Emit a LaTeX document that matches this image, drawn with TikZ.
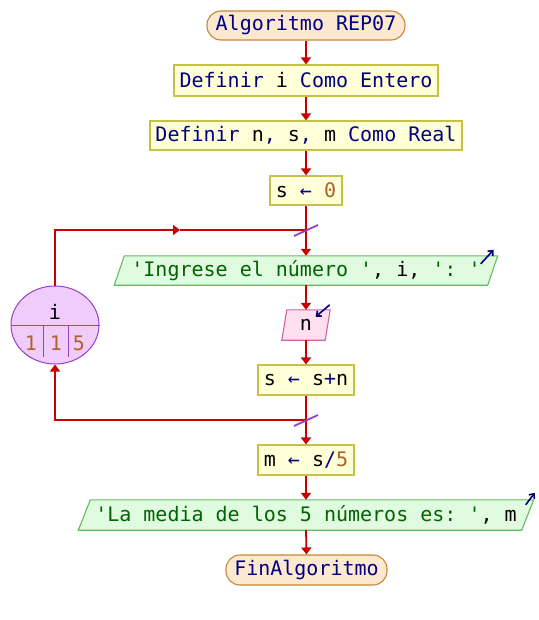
\documentclass[tikz,border=0pt]{standalone}
\usepackage{fontspec}
\setmonofont{DejaVu Sans Mono}
\usetikzlibrary{arrows.meta,shapes.geometric}
\definecolor{kwc}{RGB}{0,0,128}
\definecolor{numc}{RGB}{176,96,40}
\definecolor{strc}{RGB}{0,100,0}
\definecolor{flowc}{RGB}{200,0,0}
\definecolor{termfill}{RGB}{253,233,208}
\definecolor{termdraw}{RGB}{200,134,50}
\definecolor{procfill}{RGB}{255,255,216}
\definecolor{procdraw}{RGB}{200,192,70}
\definecolor{outfill}{RGB}{224,251,224}
\definecolor{outdraw}{RGB}{96,190,96}
\definecolor{infill}{RGB}{255,224,238}
\definecolor{indraw}{RGB}{208,100,160}
\definecolor{ellfill}{RGB}{240,204,250}
\definecolor{elldraw}{RGB}{150,64,200}
\newcommand\myK[1]{\textcolor{kwc}{#1}}
\newcommand\myN[1]{\textcolor{numc}{#1}}
\newcommand\myS[1]{\textcolor{strc}{#1}}
\pgfdeclarelayer{bg}
\pgfsetlayers{bg,main}
\begin{document}
\begin{tikzpicture}[x=1pt,y=-1pt,
  txt/.style={font=\ttfamily\fontsize{20}{24}\selectfont, inner sep=0pt},
  term/.style={txt, draw=termdraw, fill=termfill, line width=1.1pt, rounded corners=14pt},
  proc/.style={txt, draw=procdraw, fill=procfill, line width=1.1pt},
  para/.style={txt},
  outshape/.style={draw=outdraw, fill=outfill, line width=1.1pt},
  inshape/.style={draw=indraw, fill=infill, line width=1.1pt},
  line/.style={draw=flowc, line width=1.8pt},
  flow/.style={line, -{Triangle[length=7pt,width=10pt]}},
  slash/.style={draw=elldraw, line width=1.8pt},
  icon/.style={draw=kwc, line width=1.6pt, -{Straight Barb[length=4pt,width=7pt]}},
  divl/.style={draw=elldraw, line width=1pt}
]
\useasboundingbox (0,0) rectangle (538,620);

% nodes
\node[term, minimum width=198pt, minimum height=29pt] (alg) at (306,25.5) {\myK{Algoritmo REP07}};
\node[proc, minimum width=264pt, minimum height=31pt] (d1) at (306,80.5) {\myK{Definir} i \myK{Como Entero}};
\node[proc, minimum width=312pt, minimum height=29pt] (d2) at (306,135.5) {\myK{Definir} n\myK{,} s\myK{,} m \myK{Como Real}};
\node[proc, minimum width=72pt, minimum height=29pt] (s0) at (306,190.5) {s \myK{←} \myN{0}};
\node[para, minimum width=373pt, minimum height=29pt] (in1) at (306,270.5) {\myS{'Ingrese el número '}, i, \myS{': '}};
\node[para, minimum width=43pt, minimum height=30pt] (nn) at (306,325) {n};
\node[proc, minimum width=96pt, minimum height=30pt] (ss) at (306,380) {s \myK{←} s\myK{+}n};
\node[proc, minimum width=96pt, minimum height=30pt] (mm) at (306,460) {m \myK{←} s\myK{/}\myN{5}};
\node[para, minimum width=443pt, minimum height=30pt] (out) at (306,515) {\myS{'La media de los 5 números es: '}, m};
\node[term, minimum width=161pt, minimum height=30pt] (fin) at (306.5,570) {\myK{FinAlgoritmo}};

% parallelogram outlines
\begin{pgfonlayer}{bg}
\path[outshape] ([xshift=5pt]in1.north west) -- ([xshift=5pt]in1.north east) -- ([xshift=-5pt]in1.south east) -- ([xshift=-5pt]in1.south west) -- cycle;
\path[inshape] ([xshift=2.5pt]nn.north west) -- ([xshift=2.5pt]nn.north east) -- ([xshift=-2.5pt]nn.south east) -- ([xshift=-2.5pt]nn.south west) -- cycle;
\path[outshape] ([xshift=6pt]out.north west) -- ([xshift=6pt]out.north east) -- ([xshift=-6pt]out.south east) -- ([xshift=-6pt]out.south west) -- cycle;
\end{pgfonlayer}

% loop counter ellipse
\node[ellipse, draw=elldraw, fill=ellfill, line width=1pt, minimum width=88pt, minimum height=78pt, inner sep=0pt] (ell) at (55,325) {};
\draw[divl] (ell.west) -- (ell.east);
\draw[divl] (43,325) -- (43,357);
\draw[divl] (68,325) -- (68,357);
\node[txt] (ei) at (55,312) {i};
\node[txt] (e1) at (31,343) {\myN{1}};
\node[txt] (e2) at (56,343) {\myN{1}};
\node[txt] (e3) at (79,343) {\myN{5}};

% junction coordinates
\coordinate (jtop) at (306,230);
\coordinate (jbot) at (306,420);
\coordinate (amid) at (180,230);

% connectors
\draw[flow] (alg.south) -- (d1.north);
\draw[flow] (d1.south) -- (d2.north);
\draw[flow] (d2.south) -- (s0.north);
\draw[flow] (s0.south) -- (in1.north);
\draw[flow] (in1.south) -- (nn.north);
\draw[flow] (nn.south) -- (ss.north);
\draw[flow] (ss.south) -- (mm.north);
\draw[flow] (mm.south) -- (out.north);
\draw[flow] (out.south) -- (fin.north);
\draw[flow] (ell.north) |- (amid);
\draw[line] (amid) -- (jtop);
\draw[flow] (jbot) -| (ell.south);

% loop marks
\draw[slash] ([xshift=-12pt,yshift=-6pt]jtop) -- ([xshift=12pt,yshift=5pt]jtop);
\draw[slash] ([xshift=-12pt,yshift=-6pt]jbot) -- ([xshift=12pt,yshift=5pt]jbot);

% input/output icons
\draw[icon] ([xshift=-12pt,yshift=-8pt]in1.north east) -- ([xshift=1pt,yshift=6pt]in1.north east);
\draw[icon] ([xshift=2pt,yshift=5pt]nn.north east) -- ([xshift=-12pt,yshift=-7pt]nn.north east);
\draw[icon] ([xshift=-2pt,yshift=-5pt]out.north east) -- ([xshift=7pt,yshift=7pt]out.north east);
\end{tikzpicture}
\end{document}
